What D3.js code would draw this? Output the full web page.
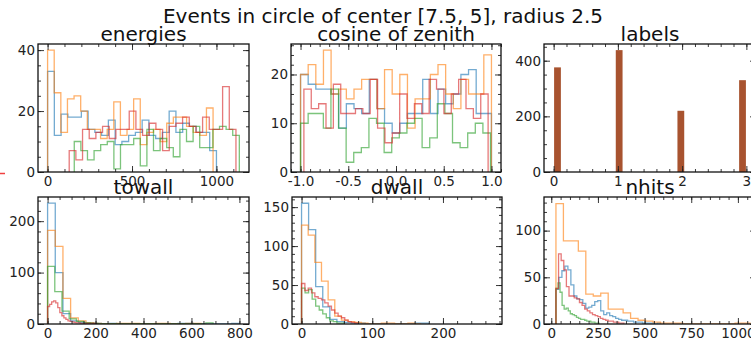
<!DOCTYPE html>
<html>
<head>
<meta charset="utf-8">
<script src="https://cdn.jsdelivr.net/npm/d3@7"></script>
<style>
  body { margin: 0; background: #fff; }
  svg { display: block; font-family: "DejaVu Sans", sans-serif; }
</style>
</head>
<body>
<svg id="fig" width="751" height="346"></svg>
<script>
// series order everywhere: blue, orange, green, red
const energiesStart = [0, 0, 158, 128];
const energiesWidth = [40, 39.2, 39.1, 39.5];
const energiesBlue = [33,12,19,18,18,20,14,13,12,17,9,10,12,13,17,12,11,13,20,13,16,15,13,13,7];
const energiesOrange = [40,26,13,24,25,20,14,14,11,14,23,12,14,24,9,13,14,10,16,18,18,15,13,12,21];
const energiesGreen = [10,7,4,7,9,10,1,9,9,11,2,14,7,11,8,5,14,10,15,8,8,14,15,14,12];
const energiesRed = [7,4,14,11,13,15,11,14,14,20,14,12,16,14,7,15,16,18,15,13,18,14,14,28,14];

const cosStart = [-1.0, -1.0, -1.0, -0.965];
const cosWidth = [0.08, 0.08, 0.0796, 0.0772];
const cosBlue = [20,18,17,17,16,9,14,13,12,19,13,10,8,10,12,12,19,12,17,14,16,20,21,12,12];
const cosOrange = [20,22,18,25,16,17,15,17,19,19,13,21,16,20,9,15,15,20,22,16,13,19,16,16,24];
const cosGreen = [10,12,12,9,17,9,2,4,5,11,10,4,7,8,10,11,5,7,14,12,6,5,8,10,8];
const cosRed = [17,13,14,9,18,12,12,13,12,19,9,6,8,16,11,14,12,19,17,12,16,19,13,11,16];

const labelValues = [0, 1, 2, 3];
const labelCounts = [376, 438, 220, 330];
const labelBins = 25;

const towallStart = [0, 0, 0, 0];
const towallWidth = [32, 32, 30, 8.5];
const towallBlue = [235,100,20,6,3,2,1,0,1,0,0,0,0,0,0,0,0,1,1,0,0,0,0,0,1];
const towallOrange = [182,151,50,12,6,2,1,0,0,1,1,1,0,0,1,1,0,0,1,1];
const towallGreen = [112,63,25,10,5,2,1,0,0,0,0,0,0,0,0,0,0,0,0,0,0,0,2];
const towallRed = [34,38,43,45,41,32,22,16,12,9,6,5,4,3,2,2,1,1,1,1,1,0,1,1];

const dwallStart = [0, 0, 0, 0];
const dwallWidth = [10, 9.4, 5, 4.7];
const dwallBlue = [155,121,48,22,6,3,2,1,1,0,0,0,0,0,0,0,1,1];
const dwallOrange = [127,114,79,55,31,10,5,3,2,1,0,0,1,1,0,0,1,0];
const dwallGreen = [46,40,44,32,23,18,13,8,4,3,1,1];
const dwallRed = [52,43,46,40,35,33,31,27,23,18,14,10,8,5,3,2,1];

const nhitsStart = [25, 25, 25, 25];
const nhitsWidth = [16, 40, 11, 14];
const nhitsBlue = [37,50,57,62,58,42,30,27,26,22,17,18,20,24,25,14,10,12,9,8,6,5,4,4,3,3,2,2,2,1,1,1,1,0,1];
const nhitsOrange = [129,89,89,78,32,30,33,16,16,12,6,4,3,2,1,1,1,0,0,0,0,0,0,0,1,1];
const nhitsGreen = [38,44,34,20,16,17,14,11,10,9,7,6,5,5,4,3,3,2,2,1,1];
const nhitsRed = [38,75,68,58,40,30,30,28,27,23,20,16,14,12,10,9,8,6,5,4,3,3,2,2,1,1];

const colors = ["#1f77b4", "#ff7f0e", "#2ca02c", "#d62728"];

const svg = d3.select("#fig");

svg.append("text")
  .attr("x", 383).attr("y", 23)
  .attr("text-anchor", "middle")
  .attr("font-size", "20px")
  .attr("fill", "#111")
  .text("Events in circle of center [7.5, 5], radius 2.5");

// stray red mark at left edge
svg.append("line")
  .attr("x1", 0).attr("x2", 5).attr("y1", 173.5).attr("y2", 173.5)
  .attr("stroke", "#f04040").attr("stroke-width", 1.5);

function stepPoints(start, width, counts) {
  const pts = [[start, 0]];
  counts.forEach((c, i) => {
    pts.push([start + i * width, c]);
    pts.push([start + (i + 1) * width, c]);
  });
  pts.push([start + counts.length * width, 0]);
  return pts;
}

function minorTicks(lo, hi, step) {
  return d3.range(Math.ceil(lo / step) * step, hi + 1e-9, step);
}

function drawPanel(p) {
  const [x0, y0, x1, y1] = p.box;
  const x = d3.scaleLinear().domain(p.xDomain).range([x0, x1]);
  const y = d3.scaleLinear().domain(p.yDomain).range([y1, y0]);
  const g = svg.append("g");

  const clipId = "clip" + p.title.replace(/\W/g, "");
  g.append("clipPath").attr("id", clipId)
    .append("rect").attr("x", x0).attr("y", y0 - 1).attr("width", x1 - x0).attr("height", y1 - y0 + 1);
  const plot = g.append("g").attr("clip-path", `url(#${clipId})`);

  if (p.series) {
    const line = d3.line().x(d => x(d[0])).y(d => y(d[1]));
    p.series.forEach((s, i) => {
      plot.append("path")
        .attr("d", line(stepPoints(s.start, s.width, s.counts)))
        .attr("fill", "none")
        .attr("stroke", colors[i])
        .attr("stroke-opacity", 0.62)
        .attr("stroke-width", 1.3);
    });
  }
  if (p.bars) {
    const w = 3 / labelBins;
    plot.selectAll("rect.bar").data(p.bars).enter().append("rect")
      .attr("class", "bar")
      .attr("x", d => x(Math.min(Math.floor(d.v / w), labelBins - 1) * w + w * 0.06))
      .attr("width", x(w * 0.88) - x(0))
      .attr("y", d => y(d.c))
      .attr("height", d => y(0) - y(d.c))
      .attr("fill", "#a8532f");
  }

  const xMinor = minorTicks(p.xDomain[0], p.xDomain[1], p.xMinor);
  const yMinor = minorTicks(p.yDomain[0], p.yDomain[1], p.yMinor);
  const fmtX = p.xFmt || (d => String(d));

  const axes = [
    [d3.axisBottom(x).tickValues(p.xMajor).tickSize(-6).tickPadding(4).tickFormat(fmtX), `translate(0,${y1})`],
    [d3.axisBottom(x).tickValues(xMinor).tickSize(-3).tickFormat(""), `translate(0,${y1})`],
    [d3.axisTop(x).tickValues(p.xMajor).tickSize(-6).tickFormat(""), `translate(0,${y0})`],
    [d3.axisTop(x).tickValues(xMinor).tickSize(-3).tickFormat(""), `translate(0,${y0})`],
    [d3.axisLeft(y).tickValues(p.yMajor).tickSize(-6).tickPadding(3).tickFormat(d => String(d)), `translate(${x0},0)`],
    [d3.axisLeft(y).tickValues(yMinor).tickSize(-3).tickFormat(""), `translate(${x0},0)`],
    [d3.axisRight(y).tickValues(p.yMajor).tickSize(-6).tickFormat(""), `translate(${x1},0)`],
    [d3.axisRight(y).tickValues(yMinor).tickSize(-3).tickFormat(""), `translate(${x1},0)`]
  ];
  axes.forEach(([ax, tr]) => {
    const a = g.append("g").attr("transform", tr).call(ax);
    a.select(".domain").remove();
    a.selectAll("line").attr("stroke", "#222").attr("stroke-width", 0.9);
    a.selectAll("text").attr("font-size", "13.5px").attr("fill", "#222")
      .attr("font-family", "DejaVu Sans, sans-serif");
  });

  g.append("rect")
    .attr("x", x0).attr("y", y0)
    .attr("width", x1 - x0).attr("height", y1 - y0)
    .attr("fill", "none").attr("stroke", "#111").attr("stroke-width", 1.3);

  g.append("text")
    .attr("x", (x0 + x1) / 2).attr("y", y0 - 3)
    .attr("text-anchor", "middle")
    .attr("font-size", "20px").attr("fill", "#111")
    .text(p.title);
}

function makeSeries(start, width, list) {
  return list.map((counts, i) => ({ start: start[i], width: width[i], counts }));
}

const topY = [44, 172], botY = [197, 324];

drawPanel({
  title: "energies", box: [38, topY[0], 249, topY[1]],
  xDomain: [-56.8, 1192.8], yDomain: [0, 42],
  xMajor: [0, 500, 1000], xMinor: 100, yMajor: [0, 20, 40], yMinor: 5,
  series: makeSeries(energiesStart, energiesWidth, [energiesBlue, energiesOrange, energiesGreen, energiesRed])
});
drawPanel({
  title: "cosine of zenith", box: [291, topY[0], 501, topY[1]],
  xDomain: [-1.1, 1.1], yDomain: [0, 26.25],
  xMajor: [-1, -0.5, 0, 0.5, 1], xMinor: 0.1, yMajor: [0, 10, 20], yMinor: 2,
  xFmt: d => d.toFixed(1),
  series: makeSeries(cosStart, cosWidth, [cosBlue, cosOrange, cosGreen, cosRed])
});
drawPanel({
  title: "labels", box: [544, topY[0], 756, topY[1]],
  xDomain: [-0.15, 3.15], yDomain: [0, 460],
  xMajor: [0, 1, 2, 3], xMinor: 0.2, yMajor: [0, 200, 400], yMinor: 50,
  bars: labelValues.map((v, i) => ({ v, c: labelCounts[i] }))
});
drawPanel({
  title: "towall", box: [38, botY[0], 249, botY[1]],
  xDomain: [-40, 840], yDomain: [0, 247],
  xMajor: [0, 200, 400, 600, 800], xMinor: 50, yMajor: [0, 100, 200], yMinor: 20,
  series: makeSeries(towallStart, towallWidth, [towallBlue, towallOrange, towallGreen, towallRed])
});
drawPanel({
  title: "dwall", box: [292, botY[0], 502, botY[1]],
  xDomain: [-13.5, 283.5], yDomain: [0, 163],
  xMajor: [0, 100, 200], xMinor: 20, yMajor: [0, 50, 100, 150], yMinor: 10,
  series: makeSeries(dwallStart, dwallWidth, [dwallBlue, dwallOrange, dwallGreen, dwallRed])
});
drawPanel({
  title: "nhits", box: [544, botY[0], 756, botY[1]],
  xDomain: [-39, 1097], yDomain: [0, 136],
  xMajor: [0, 250, 500, 750, 1000], xMinor: 50, yMajor: [0, 50, 100], yMinor: 10,
  series: makeSeries(nhitsStart, nhitsWidth, [nhitsBlue, nhitsOrange, nhitsGreen, nhitsRed])
});
</script>
</body>
</html>
